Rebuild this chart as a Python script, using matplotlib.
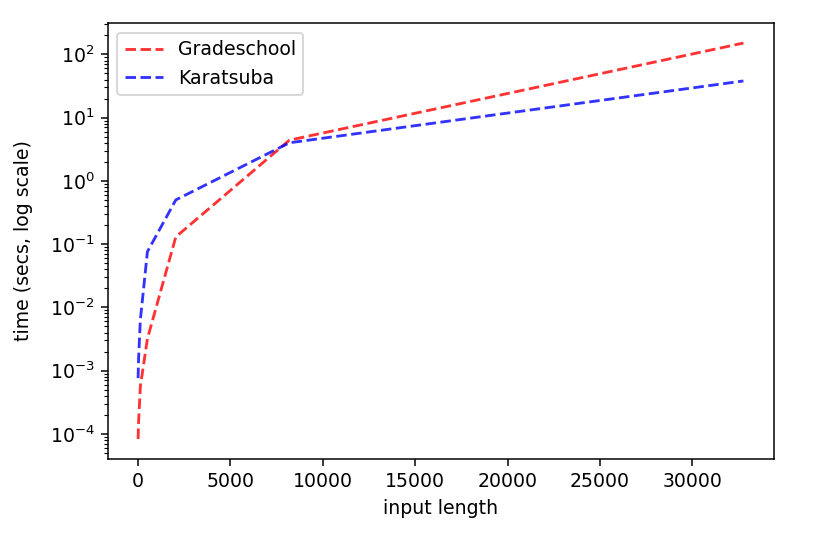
import matplotlib
matplotlib.use('Agg')
import matplotlib.pyplot as plt

# input lengths (powers of 4) and timings in seconds
input_lengths = [8, 32, 128, 512, 2048, 8192, 32768]
gradeschool_times = [8.3e-5, 1.5e-4, 5.6e-4, 3.2e-3, 0.13, 4.4, 151]
karatsuba_times = [7.6e-4, 1.5e-3, 6.3e-3, 0.076, 0.50, 4.0, 38]

fig = plt.figure(figsize=(817 / 136, 541 / 136), dpi=136)
plt.subplots_adjust(left=0.132, right=0.947, bottom=0.152, top=0.957)

plt.plot(input_lengths, gradeschool_times, 'r--', alpha=0.8, label='Gradeschool')
plt.plot(input_lengths, karatsuba_times, 'b--', alpha=0.8, label='Karatsuba')
plt.yscale('log')
plt.xlabel('input length')
plt.ylabel('time (secs, log scale)', labelpad=9)
plt.legend(loc='upper left')

plt.savefig('out.png', dpi=136)
